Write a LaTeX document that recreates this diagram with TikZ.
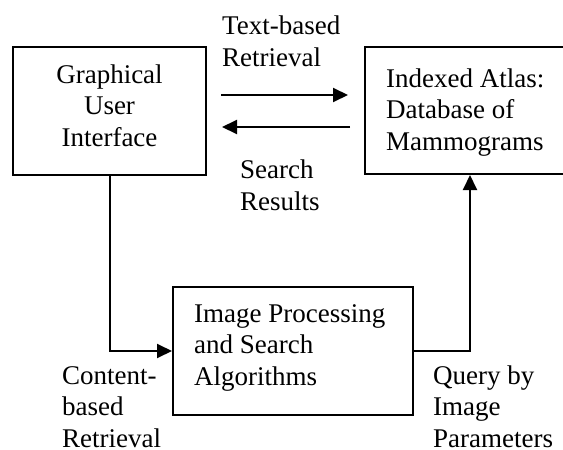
\documentclass[tikz,border=0pt]{standalone}
\usepackage{fontspec}
\setmainfont{Liberation Serif}
\usetikzlibrary{arrows.meta}
\begin{document}
\begin{tikzpicture}[x=1pt,y=-1pt,
  box/.style={draw,line width=2pt,inner sep=0pt},
  txt/.style={inner sep=0pt,font=\fontsize{27}{31.5}\selectfont},
  arr/.style={line width=2pt,-{Triangle[length=15pt,width=14pt]}}]
  \useasboundingbox (0,0) rectangle (563,450);

  % the three blocks
  \node[box,minimum width=193pt,minimum height=128pt] (gui)   at (109.5,111) {};
  \node[box,minimum width=210pt,minimum height=127pt] (atlas) at (470,110.5) {};
  \node[box,minimum width=240pt,minimum height=128pt] (ip)    at (293,351) {};

  % block texts (anchored on the baseline of their last line)
  \node[txt,anchor=base,align=center] (guitxt) at (109.5,146) {Graphical\\User\\Interface};
  \node[txt,anchor=base west,align=left] (atlastxt) at (386,150) {Indexed Atlas:\\Database of\\Mammograms};
  \node[txt,anchor=base west,align=left] (iptxt) at (194,385) {Image Processing\\and Search\\Algorithms};

  % connector labels
  \node[txt,anchor=base west,align=left] (lbltext) at (222,66) {Text-based\\Retrieval};
  \node[txt,anchor=base west,align=left] (lblsearch) at (240,210) {Search\\Results};
  \node[txt,text depth=0pt,anchor=base west,align=left] (lblcontent) at (62,447) {Content-\\based\\Retrieval};
  \node[txt,text depth=0pt,anchor=base west,align=left] (lblquery) at (433,447) {Query by\\Image\\Parameters};

  % free ends of the two horizontal arrows
  \coordinate (reqs) at (221,95);
  \coordinate (reqe) at (348,95);
  \coordinate (ress) at (350,127);
  \coordinate (rese) at (222,127);

  \draw[arr] (reqs) -- (reqe);
  \draw[arr] (ress) -- (rese);
  \draw[arr] (gui.south) |- (ip.west);
  \draw[arr] (ip.east) -| (atlas.south);
\end{tikzpicture}
\end{document}
